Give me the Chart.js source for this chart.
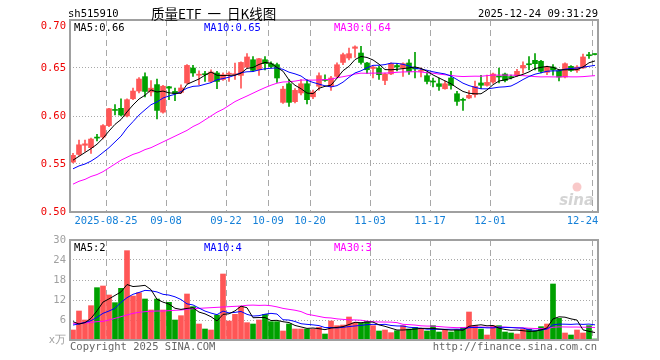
<!DOCTYPE html>
<html><head><meta charset="utf-8">
<script src="https://cdn.jsdelivr.net/npm/chart.js@4.4.1/dist/chart.umd.min.js"></script>
<style>
html,body{margin:0;padding:0;background:#fff;}
#wrap{position:relative;width:660px;height:360px;overflow:hidden;font-family:"DejaVu Sans Mono",monospace;font-size:10.5px;}
canvas{position:absolute;left:0;}
.t{position:absolute;white-space:pre;line-height:12px;}
</style></head><body>
<div id="wrap">
<canvas id="pc" width="660" height="232" style="top:0;width:660px;height:232px"></canvas>
<canvas id="vc" width="660" height="128" style="top:232px;width:660px;height:128px"></canvas>
<div class="t" style="left:68px;top:7px;color:#000">sh515910</div>
<div class="t" style="left:151px;top:5px;color:#000;font-family:'Noto Sans CJK SC';font-size:13.5px;line-height:16px">质量ETF&nbsp;&nbsp;一&nbsp;&nbsp;日K线图</div>
<div class="t" style="right:62px;top:7px;color:#000">2025-12-24 09:31:29</div>
<div class="t" id="m5" style="left:74px;top:21px;color:#000"></div>
<div class="t" id="m10" style="left:204px;top:21px;color:#0000ff"></div>
<div class="t" id="m30" style="left:334px;top:21px;color:#ff00ff"></div>
<div class="t" id="v5" style="left:74px;top:241px;color:#000"></div>
<div class="t" id="v10" style="left:204px;top:241px;color:#0000ff"></div>
<div class="t" id="v30" style="left:334px;top:241px;color:#ff00ff"></div>
<div class="t" style="left:70px;top:340px;color:#666">Copyright 2025 SINA.COM</div>
<div class="t" style="right:63px;top:340px;color:#666">http://finance.sina.com.cn</div>
</div>
<script>
// ---------- data ----------
const dates = [
'2025-08-15','2025-08-18','2025-08-19','2025-08-20','2025-08-21','2025-08-22','2025-08-25','2025-08-26','2025-08-27','2025-08-28','2025-08-29',
'2025-09-01','2025-09-02','2025-09-03','2025-09-04','2025-09-05','2025-09-08','2025-09-09','2025-09-10','2025-09-11','2025-09-12',
'2025-09-15','2025-09-16','2025-09-17','2025-09-18','2025-09-19','2025-09-22','2025-09-23','2025-09-24','2025-09-25','2025-09-26',
'2025-09-29','2025-09-30',
'2025-10-09','2025-10-10','2025-10-13','2025-10-14','2025-10-15','2025-10-16','2025-10-17','2025-10-20','2025-10-21','2025-10-22',
'2025-10-23','2025-10-24','2025-10-27','2025-10-28','2025-10-29','2025-10-30','2025-10-31',
'2025-11-03','2025-11-04','2025-11-05','2025-11-06','2025-11-07','2025-11-10','2025-11-11','2025-11-12','2025-11-13','2025-11-14',
'2025-11-17','2025-11-18','2025-11-19','2025-11-20','2025-11-21','2025-11-24','2025-11-25','2025-11-26','2025-11-27','2025-11-28',
'2025-12-01','2025-12-02','2025-12-03','2025-12-04','2025-12-05','2025-12-08','2025-12-09','2025-12-10','2025-12-11','2025-12-12',
'2025-12-15','2025-12-16','2025-12-17','2025-12-18','2025-12-19','2025-12-22','2025-12-23','2025-12-24'];

const tickDates = ['2025-08-25','2025-09-08','2025-09-22','2025-10-09','2025-10-20','2025-11-03','2025-11-17','2025-12-01','2025-12-24'];

const opens = [0.552,0.560,0.5695,0.567,0.5775,0.578,0.590,0.6063,0.608,0.600,
0.618,0.626,0.641,0.625,0.6327,0.604,0.6305,0.6256,0.6246,0.6344,
0.650,0.6425,0.6435,0.636,0.6448,0.638,0.6435,0.643,0.6423,0.651,
0.6586,0.6482,0.6586,0.6545,0.6535,0.6142,0.6336,0.6149,0.624,0.6336,
0.620,0.631,0.638,0.6308,0.6413,0.6558,0.6604,0.6705,0.6656,0.6552,
0.6495,0.650,0.637,0.6438,0.6526,0.650,0.6552,0.6495,0.6465,0.642,
0.6359,0.6336,0.6284,0.6396,0.6232,0.6168,0.6188,0.6222,0.6344,0.6319,
0.6354,0.6411,0.6437,0.6405,0.642,0.650,0.6539,0.658,0.657,0.6455,
0.651,0.6472,0.6406,0.6517,0.6475,0.650,0.6633,0.6644];

const highs = [0.561,0.575,0.575,0.577,0.581,0.591,0.608,0.612,0.618,0.618,
0.629,0.640,0.645,0.637,0.6385,0.632,0.631,0.629,0.6325,0.6535,
0.6527,0.647,0.6465,0.648,0.6465,0.645,0.646,0.655,0.6565,0.665,
0.662,0.660,0.662,0.6565,0.655,0.6308,0.638,0.6285,0.638,0.638,
0.627,0.645,0.643,0.6413,0.6555,0.6656,0.6708,0.673,0.6725,0.656,
0.6517,0.6517,0.6448,0.6555,0.6545,0.6555,0.6587,0.6662,0.650,0.6455,
0.6396,0.6396,0.6365,0.6465,0.6256,0.6187,0.6266,0.6365,0.6424,0.6425,
0.6448,0.650,0.6448,0.6425,0.6485,0.6565,0.662,0.665,0.658,0.652,
0.6535,0.648,0.6555,0.6525,0.6525,0.6645,0.6663,0.6647];

const lows = [0.551,0.559,0.563,0.561,0.574,0.576,0.589,0.601,0.600,0.599,
0.617,0.624,0.620,0.621,0.597,0.603,0.617,0.616,0.6235,0.634,
0.6413,0.6326,0.636,0.635,0.6285,0.637,0.636,0.638,0.629,0.650,
0.6465,0.6423,0.648,0.650,0.635,0.613,0.610,0.6135,0.622,0.6125,
0.618,0.627,0.636,0.6267,0.640,0.6534,0.6585,0.661,0.654,0.644,
0.6396,0.638,0.6326,0.643,0.647,0.6413,0.6434,0.6396,0.6406,0.6335,
0.6302,0.6267,0.628,0.628,0.611,0.6058,0.618,0.6195,0.6285,0.631,
0.634,0.6344,0.6355,0.6385,0.641,0.6445,0.648,0.648,0.645,0.643,
0.6425,0.6365,0.6396,0.6465,0.6455,0.6495,0.660,0.6635];

const closes = [0.559,0.570,0.571,0.576,0.577,0.590,0.6076,0.6058,0.601,0.617,
0.626,0.6385,0.6256,0.629,0.6058,0.631,0.629,0.6233,0.6292,0.6527,
0.6448,0.6428,0.643,0.6458,0.636,0.643,0.6438,0.644,0.6558,0.6615,
0.6475,0.6597,0.6545,0.6515,0.6396,0.628,0.6142,0.6267,0.6336,0.617,
0.625,0.642,0.637,0.6396,0.6534,0.6639,0.6649,0.672,0.6558,0.6482,
0.651,0.643,0.6438,0.6545,0.651,0.6545,0.6465,0.649,0.647,0.636,
0.6354,0.6308,0.6336,0.6319,0.6152,0.6163,0.6215,0.6308,0.632,0.635,
0.6437,0.6406,0.637,0.640,0.6465,0.6527,0.6534,0.6545,0.6465,0.651,
0.648,0.6406,0.6545,0.6475,0.651,0.6615,0.6628,0.664];

// volume, unit: 10k shares (万)
const volumes = [3.0,8.7,6.0,10.3,15.7,16.2,13.5,11.2,15.5,26.8,
13.2,14.2,12.3,9.0,12.3,9.0,11.3,6.0,7.3,13.8,
10.0,4.8,3.3,3.0,7.5,19.8,5.7,7.7,10.0,5.2,
4.8,6.0,7.7,5.5,5.5,2.7,4.8,3.3,3.3,3.3,
3.3,3.8,1.8,5.7,4.3,4.5,6.9,5.2,5.0,5.5,
4.3,2.7,3.0,2.2,2.8,4.3,3.3,3.8,3.3,2.7,
4.3,2.4,3.0,2.4,3.0,3.8,8.4,4.3,3.3,1.5,
4.3,4.3,2.4,2.1,1.8,3.3,3.3,2.7,4.0,4.8,
16.8,6.5,2.1,1.5,3.0,2.1,4.3,0.3];

const priceMa5Lead = [0.554,0.558,0.562,0.566];
const priceMa10Lead = [0.545,0.548,0.550,0.553,0.557,0.562,0.567,0.573,0.579];
const priceMa30Lead = [0.529,0.532,0.534,0.537,0.539,0.542,0.546,0.550,0.554,0.557,
0.560,0.562,0.565,0.567,0.570,0.573,0.576,0.579,0.582,0.585,
0.589,0.592,0.596,0.600,0.604,0.607,0.611,0.615,0.618];
const volMa5Lead = [5.5,4.8,5.2,6.5];
const volMa10Lead = [4.5,4.8,5.3,5.8,6.8,8.0,8.7,9.5,11.3];
const volMa30Lead = [5.0,5.0,5.1,5.3,5.5,5.6,6.0,6.5,7.0,7.5,
8.0,8.3,8.5,8.6,8.7,8.7,8.8,8.9,9.0,9.2,
9.4,9.5,9.6,9.7,9.8,9.9,10.0,10.1,10.2];

const priceTicks = [0.50,0.55,0.60,0.65,0.70];
const volTicks = [0,6,12,18,24,30];

// ---------- helpers ----------
const RED = '#ff5656', GREEN = '#00a000';
function movingAvg(arr, n, lead) {
  return arr.map((_, i) => {
    if (i < n - 1) return lead[i];
    let s = 0; for (let k = i - n + 1; k <= i; k++) s += arr[k];
    return s / n;
  });
}
const up = closes.map((c, i) => c >= opens[i]);
const candleColors = up.map(u => u ? RED : GREEN);
const tickIdx = new Map(tickDates.map((d, k) => [dates.indexOf(d), k]));
function tickText(i) {
  if (!tickIdx.has(i)) return '';
  const d = dates[i];
  const k = tickIdx.get(i);
  let s = k === 0 ? d : d.slice(5);
  if (i === dates.length - 1) s = s + '   ';
  return s;
}
const gridX = ctx => tickIdx.has(ctx.index) ? '#a8a8a8' : 'rgba(0,0,0,0)';

const pMa5 = movingAvg(closes, 5, priceMa5Lead);
const pMa10 = movingAvg(closes, 10, priceMa10Lead);
const pMa30 = movingAvg(closes, 30, priceMa30Lead);
const vMa5 = movingAvg(volumes, 5, volMa5Lead);
const vMa10 = movingAvg(volumes, 10, volMa10Lead);
const vMa30 = movingAvg(volumes, 30, volMa30Lead);
const last = a => a[a.length - 1];
document.getElementById('m5').textContent = 'MA5:' + last(pMa5).toFixed(2);
document.getElementById('m10').textContent = 'MA10:' + last(pMa10).toFixed(2);
document.getElementById('m30').textContent = 'MA30:' + last(pMa30).toFixed(2);
document.getElementById('v5').textContent = 'MA5:' + Math.floor(last(vMa5));
document.getElementById('v10').textContent = 'MA10:' + Math.floor(last(vMa10));
document.getElementById('v30').textContent = 'MA30:' + Math.floor(last(vMa30));

Chart.defaults.font.family = "'DejaVu Sans Mono', monospace";
Chart.defaults.font.size = 10.5;
Chart.defaults.animation = false;

const frame = {
  id: 'frame',
  beforeDatasetsDraw(chart, args, opts) {
    if (opts.watermark) {
      const c = chart.ctx, a = chart.chartArea;
      c.save();
      c.font = "italic bold 15px 'DejaVu Sans'";
      c.fillStyle = 'rgba(170,170,170,0.5)';
      c.textAlign = 'right';
      c.fillText('sina', a.right - 4, a.bottom - 7);
      c.fillStyle = 'rgba(240,120,120,0.4)';
      c.beginPath(); c.arc(a.right - 21, a.bottom - 25, 4.5, 0, Math.PI * 2); c.fill();
      c.restore();
    }
  },
  afterDraw(chart) {
    const c = chart.ctx, a = chart.chartArea;
    c.save();
    c.strokeStyle = '#a0a0a0';
    c.lineWidth = 2;
    c.strokeRect(a.left, a.top, a.right - a.left, a.bottom - a.top);
    c.restore();
  }
};

function fitX(h) { return s => { s.height = h; s.paddingLeft = 0; s.paddingRight = 0; }; }
function fitY(s) { s.width = 70; s.paddingTop = 0; s.paddingBottom = 0; }

// ---------- price chart ----------
new Chart(document.getElementById('pc'), {
  type: 'bar',
  data: {
    labels: dates,
    datasets: [
      { type: 'line', data: pMa5, borderColor: '#000', borderWidth: 1, pointRadius: 0, order: 0 },
      { type: 'line', data: pMa10, borderColor: '#0000ff', borderWidth: 1, pointRadius: 0, order: 0 },
      { type: 'line', data: pMa30, borderColor: '#ff00ff', borderWidth: 1, pointRadius: 0, order: 0 },
      { data: opens.map((o, i) => [o, closes[i]]), backgroundColor: candleColors, barThickness: 5,
        minBarLength: 1, grouped: false, order: 1 },
      { data: lows.map((l, i) => [l, highs[i]]), backgroundColor: candleColors, barThickness: 1,
        grouped: false, order: 2 }
    ]
  },
  options: {
    responsive: false, devicePixelRatio: 1,
    layout: { padding: { left: 0, right: 62, top: 20, bottom: 0 } },
    plugins: { legend: { display: false }, tooltip: { enabled: false }, frame: { watermark: true } },
    scales: {
      x: {
        offset: true,
        grid: { offset: true, color: gridX, lineWidth: 1, drawTicks: false },
        border: { display: false, dash: [6, 4] },
        ticks: { autoSkip: false, maxRotation: 0, minRotation: 0, padding: 3, labelOffset: -3,
          color: '#1580d8', callback: (v, i) => tickText(i) },
        afterFit: fitX(20)
      },
      y: {
        min: priceTicks[0], max: priceTicks[priceTicks.length - 1],
        afterBuildTicks: s => { s.ticks = priceTicks.map(v => ({ value: v })); },
        grid: { color: '#a8a8a8', lineWidth: 1, drawTicks: false },
        border: { display: false, dash: [1, 2] },
        ticks: { color: '#ee0000', padding: 4,
          callback: v => Math.abs(v - 0.70) < 1e-9 ? ['', v.toFixed(2)] : v.toFixed(2) },
        afterFit: fitY
      }
    }
  },
  plugins: [frame]
});

// ---------- volume chart ----------
new Chart(document.getElementById('vc'), {
  type: 'bar',
  data: {
    labels: dates,
    datasets: [
      { type: 'line', data: vMa5, borderColor: '#000', borderWidth: 1, pointRadius: 0, order: 0 },
      { type: 'line', data: vMa10, borderColor: '#0000ff', borderWidth: 1, pointRadius: 0, order: 0 },
      { type: 'line', data: vMa30, borderColor: '#ff00ff', borderWidth: 1, pointRadius: 0, order: 0 },
      { data: volumes, backgroundColor: candleColors, barThickness: 5, minBarLength: 1, order: 1 }
    ]
  },
  options: {
    responsive: false, devicePixelRatio: 1,
    layout: { padding: { left: 0, right: 62, top: 8, bottom: 0 } },
    plugins: { legend: { display: false }, tooltip: { enabled: false }, frame: { watermark: false } },
    scales: {
      x: {
        offset: true,
        grid: { offset: true, color: gridX, lineWidth: 1, drawTicks: false },
        border: { display: false, dash: [6, 4] },
        ticks: { display: false },
        afterFit: fitX(20)
      },
      y: {
        min: volTicks[0], max: volTicks[volTicks.length - 1],
        afterBuildTicks: s => { s.ticks = volTicks.map(v => ({ value: v })); },
        grid: { color: '#a8a8a8', lineWidth: 1, drawTicks: false },
        border: { display: false, dash: [1, 2] },
        ticks: { color: '#a0a0a0', padding: 4, callback: v => v === 0 ? 'x万' : String(v) },
        afterFit: fitY
      }
    }
  },
  plugins: [frame]
});
</script>
</body></html>
